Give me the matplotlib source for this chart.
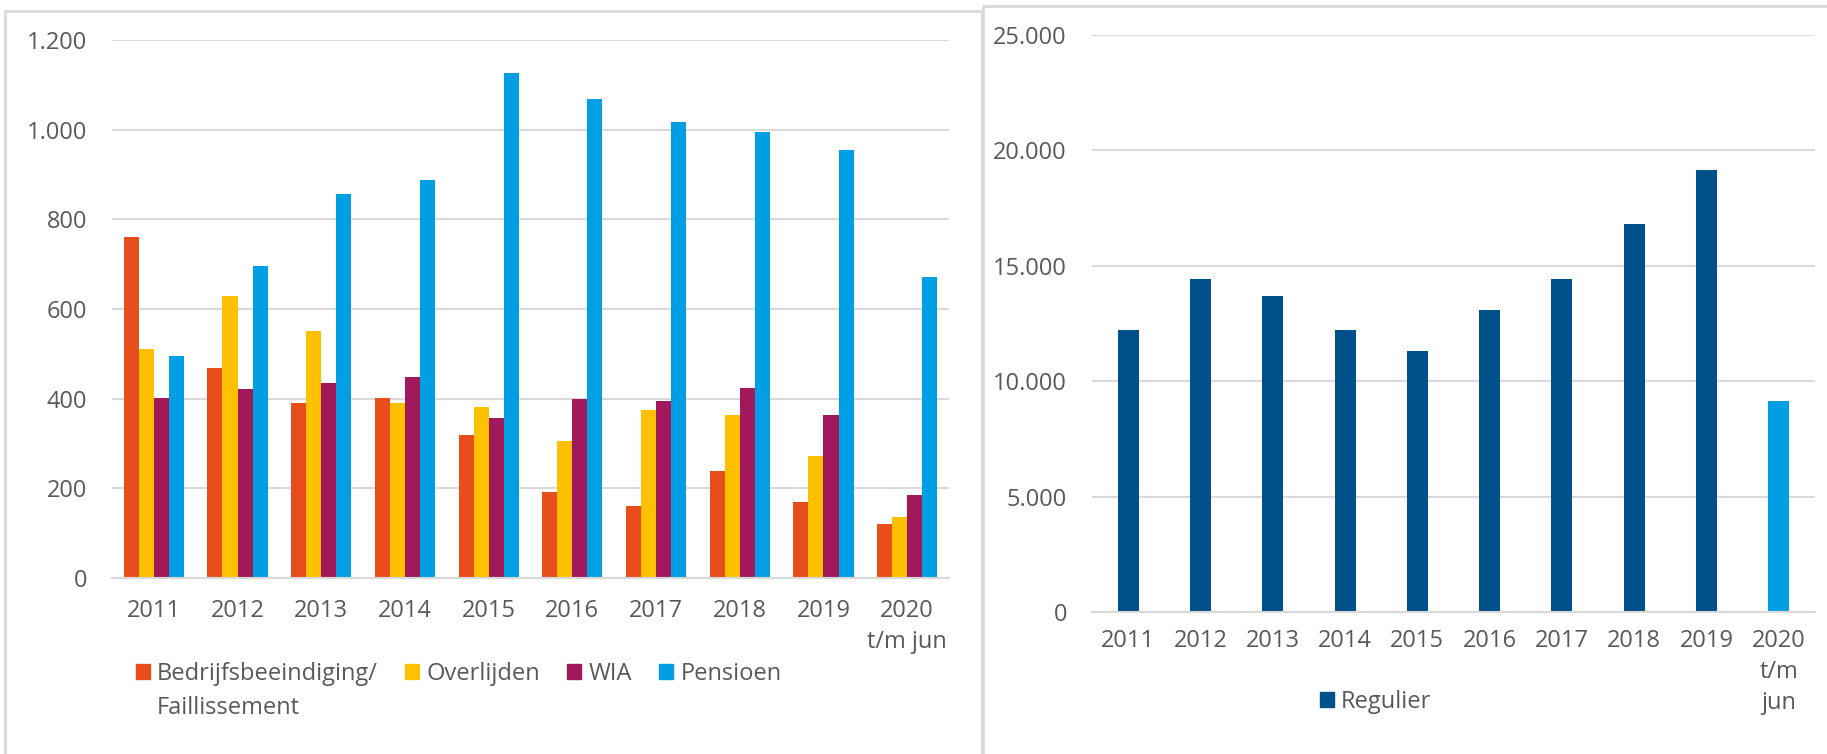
"""
uitstroom per reden (links) en regulier (rechts), 2011 - 2020 t/m jun
outputs: out.png
"""

import matplotlib.pyplot as plt
from matplotlib.patches import Patch, Rectangle
from matplotlib.ticker import FuncFormatter, MultipleLocator
import numpy as np

# -- DATA --
years = ["2011", "2012", "2013", "2014", "2015", "2016", "2017", "2018", "2019", "2020\nt/m jun"]
years_right = ["2011", "2012", "2013", "2014", "2015", "2016", "2017", "2018", "2019", "2020\nt/m\njun"]

bedrijfsbeeindiging = [760, 469, 391, 402, 319, 192, 160, 239, 170, 120]
overlijden = [510, 630, 552, 391, 382, 305, 374, 364, 273, 136]
wia = [402, 422, 436, 449, 356, 400, 394, 424, 364, 186]
pensioen = [496, 696, 857, 887, 1127, 1069, 1016, 995, 954, 671]

regulier = [12200, 14430, 13700, 12200, 11300, 13070, 14430, 16810, 19140, 9150]

series_left = ["Bedrijfsbeeindiging/", "Overlijden", "WIA", "Pensioen"]
label_second_line = "Faillissement"

# -- STYLE --
TEXT = "#595959"
GRID = "#D9D9D9"
colors_left = ["#E84E1B", "#FFC000", "#A2195B", "#009FE3"]
DARK_BLUE = "#00508A"
LIGHT_BLUE = "#009FE3"
FS = 17

plt.rcParams["font.family"] = ["Open Sans", "DejaVu Sans"]
plt.rcParams["font.size"] = FS
plt.rcParams["text.color"] = TEXT

W, H = 1827, 754
fig = plt.figure(figsize=(W / 100, H / 100), dpi=100)


def dots(v, pos):
    return f"{v:,.0f}".replace(",", ".")


def style_axes(ax, ymax, step, xpad):
    ax.set_ylim(0, ymax)
    ax.yaxis.set_major_locator(MultipleLocator(step))
    ax.yaxis.set_major_formatter(FuncFormatter(dots))
    ax.grid(axis="y", color=GRID, linewidth=1.5)
    ax.set_axisbelow(True)
    for side in ["top", "right", "left"]:
        ax.spines[side].set_visible(False)
    ax.spines["bottom"].set_color(GRID)
    ax.spines["bottom"].set_linewidth(1.5)
    ax.tick_params(axis="both", length=0, colors=TEXT, labelsize=FS)
    ax.tick_params(axis="y", pad=18)
    ax.tick_params(axis="x", pad=xpad)
    for lbl in ax.get_xticklabels():
        lbl.set_linespacing(1.4)


# panel frames
fig.patches.append(Rectangle((5 / W, -0.1), 977 / W, 1.1 - 11 / H, transform=fig.transFigure,
                             fill=False, edgecolor=GRID, linewidth=2))
fig.patches.append(Rectangle((983 / W, -0.1), 0.5, 1.1 - 6 / H, transform=fig.transFigure,
                             fill=False, edgecolor=GRID, linewidth=2))

# -- LEFT: uitstroom per reden --
ax1 = fig.add_axes([112 / W, 1 - 578 / H, 837 / W, 538 / H])
x = np.arange(len(years))
bw = 0.18
for i, vals in enumerate([bedrijfsbeeindiging, overlijden, wia, pensioen]):
    ax1.bar(x + (i - 1.5) * bw, vals, width=bw, color=colors_left[i])
ax1.set_xlim(-0.5, len(years) - 0.5)
ax1.set_xticks(x)
ax1.set_xticklabels(years)
style_axes(ax1, 1200, 200, 15)

handles = [Patch(color=c) for c in colors_left]
leg1 = fig.legend(handles, series_left, ncol=4, loc="upper left",
                  bbox_to_anchor=(124 / W, 1 - 650 / H), frameon=False,
                  handlelength=0.6, handleheight=0.6, handletextpad=0.3,
                  columnspacing=1.15, borderpad=0, fontsize=FS)
for t in leg1.get_texts():
    t.set_color(TEXT)

# -- RIGHT: regulier --
ax2 = fig.add_axes([1092 / W, 1 - 612 / H, 723 / W, 577 / H])
x2 = np.arange(len(years_right))
bar_colors = [DARK_BLUE] * (len(regulier) - 1) + [LIGHT_BLUE]
ax2.bar(x2, regulier, width=0.29, color=bar_colors)
ax2.set_xlim(-0.5, len(years_right) - 0.5)
ax2.set_xticks(x2)
ax2.set_xticklabels(years_right)
style_axes(ax2, 25000, 5000, 12)

leg2 = fig.legend([Patch(color=DARK_BLUE)], ["Regulier"], loc="upper left",
                  bbox_to_anchor=(1308 / W, 1 - 678 / H), frameon=False,
                  handlelength=0.6, handleheight=0.6, handletextpad=0.3,
                  borderpad=0, fontsize=FS)
for t in leg2.get_texts():
    t.set_color(TEXT)

# second line of the first legend entry, placed under its first line
fig.canvas.draw()
bb = leg1.get_texts()[0].get_window_extent()
fig.text(bb.x0 / W, (bb.y0 - 34 + bb.height / 2) / H, label_second_line,
         ha="left", va="center", fontsize=FS, color=TEXT)

fig.savefig("out.png", dpi=100)
